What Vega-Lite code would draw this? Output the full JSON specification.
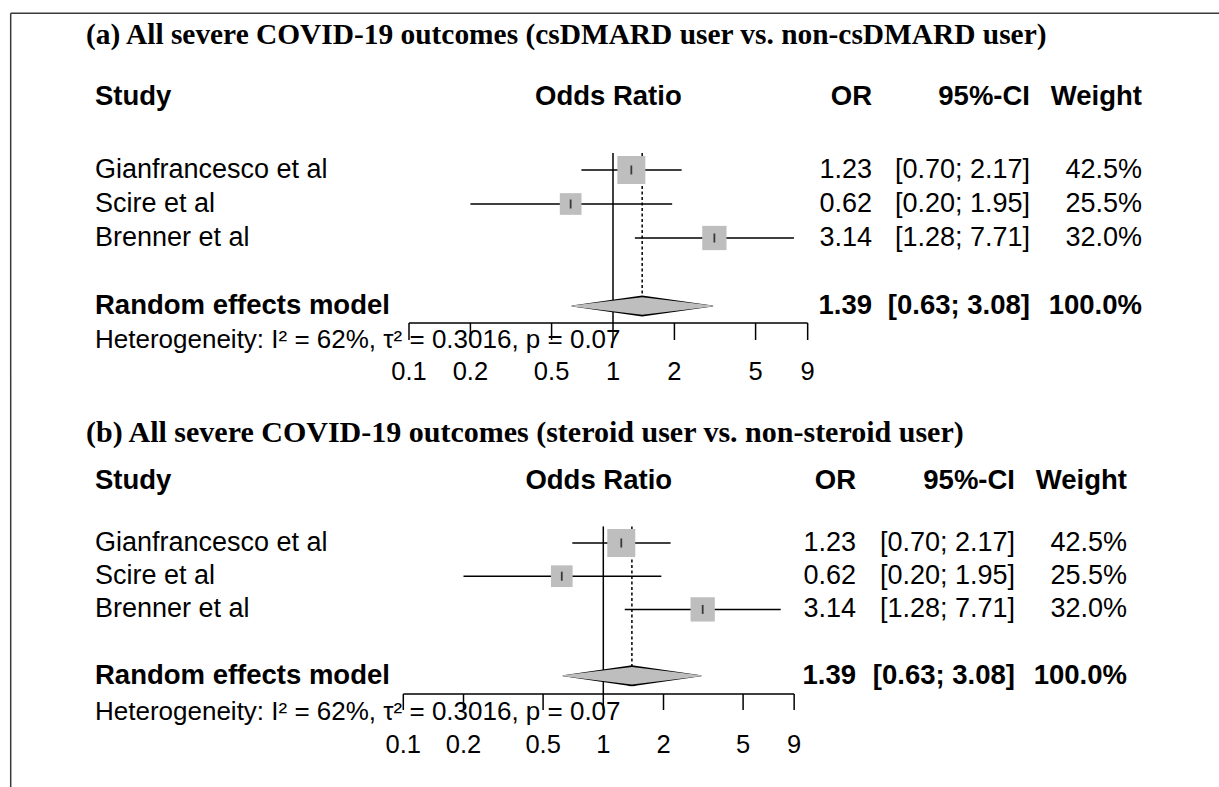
{
  "$schema": "https://vega.github.io/schema/vega-lite/v6.json",
  "padding": 0,
  "background": "white",
  "spacing": 0,
  "bounds": "flush",
  "config": {"view": {"stroke": null}, "text": {"font": "Liberation Sans", "color": "black", "baseline": "middle"}},
  "datasets": {
    "meta": [
      {"study": "Gianfrancesco et al", "or": 1.23, "lo": 0.70, "hi": 2.17, "ci": "[0.70; 2.17]", "w": 0.425, "row": 5, "kind": "study"},
      {"study": "Scire et al", "or": 0.62, "lo": 0.20, "hi": 1.95, "ci": "[0.20; 1.95]", "w": 0.255, "row": 6, "kind": "study"},
      {"study": "Brenner et al", "or": 3.14, "lo": 1.28, "hi": 7.71, "ci": "[1.28; 7.71]", "w": 0.32, "row": 7, "kind": "study"},
      {"study": "Random effects model", "or": 1.39, "lo": 0.63, "hi": 3.08, "ci": "[0.63; 3.08]", "w": 1.0, "row": 9, "kind": "pooled"}
    ],
    "ticks": [{"t": 0.1}, {"t": 0.2}, {"t": 0.5}, {"t": 1}, {"t": 2}, {"t": 5}, {"t": 9}],
    "one": [{}]
  },
  "vconcat": [
    {
      "width": 1219, "height": 377,
      "data": {"name": "meta"},
      "resolve": {"scale": {"size": "independent"}},
      "layer": [
        {"data": {"name": "one"}, "mark": {"type": "rule", "color": "#3a3a3a", "strokeWidth": 1.5},
         "encoding": {"x": {"datum": 0.0011155, "type": "quantitative", "scale": {"type": "log", "domain": [0.00098878, 934.5], "nice": false}, "axis": null},
                      "x2": {"datum": 934.5},
                      "y": {"datum": 0.39, "type": "quantitative", "scale": {"domain": [0, 11.0882], "reverse": true, "nice": false, "zero": false}, "axis": null}}},
        {"data": {"name": "one"}, "mark": {"type": "rule", "color": "#3a3a3a", "strokeWidth": 1.5},
         "encoding": {"x": {"datum": 0.0011155, "type": "quantitative"}, "y": {"datum": 0.39, "type": "quantitative"}, "y2": {"datum": 11.0882}}},
        {"data": {"name": "one"}, "mark": {"type": "rule", "color": "black", "strokeWidth": 1.5},
         "encoding": {"x": {"datum": 1, "type": "quantitative"}, "y": {"datum": 4.5, "type": "quantitative"}, "y2": {"datum": 9.5}}},
        {"transform": [{"filter": "datum.kind == 'pooled'"}], "mark": {"type": "rule", "color": "black", "strokeWidth": 1.5, "strokeDash": [3, 2.5]},
         "encoding": {"x": {"field": "or", "type": "quantitative"}, "y": {"datum": 4.5, "type": "quantitative"}, "y2": {"datum": 8.71}}},
        {"transform": [{"filter": "datum.kind == 'study'"}], "mark": {"type": "rule", "color": "black", "strokeWidth": 1.5},
         "encoding": {"x": {"field": "lo", "type": "quantitative"}, "x2": {"field": "hi"}, "y": {"field": "row", "type": "quantitative"}}},
        {"transform": [{"filter": "datum.kind == 'study'"}], "mark": {"type": "square", "color": "#bebebe", "opacity": 1, "filled": true},
         "encoding": {"x": {"field": "or", "type": "quantitative"}, "y": {"field": "row", "type": "quantitative"},
                      "size": {"field": "w", "type": "quantitative", "scale": {"type": "linear", "domain": [0, 0.5], "range": [0, 922]}, "legend": null}}},
        {"transform": [{"filter": "datum.kind == 'study'"}], "mark": {"type": "tick", "orient": "vertical", "size": 9, "thickness": 1.8, "color": "black"},
         "encoding": {"x": {"field": "or", "type": "quantitative"}, "y": {"field": "row", "type": "quantitative"}}},
        {"transform": [{"filter": "datum.kind == 'pooled'"}, {"fold": ["lo", "or", "hi"], "as": ["k", "v"]}], "mark": {"type": "trail", "color": "black"},
         "encoding": {"x": {"field": "v", "type": "quantitative"}, "y": {"field": "row", "type": "quantitative"},
                      "size": {"field": "k", "type": "nominal", "scale": {"type": "ordinal", "domain": ["lo", "or", "hi"], "range": [0, 21, 0]}, "legend": null}}},
        {"transform": [{"filter": "datum.kind == 'pooled'"}, {"fold": ["lo", "or", "hi"], "as": ["k", "v"]}], "mark": {"type": "trail", "color": "#bebebe"},
         "encoding": {"x": {"field": "v", "type": "quantitative"}, "y": {"field": "row", "type": "quantitative"},
                      "size": {"field": "k", "type": "nominal", "scale": {"type": "ordinal", "domain": ["lo", "or", "hi"], "range": [0, 17.5, 0]}, "legend": null}}},
        {"data": {"name": "one"}, "mark": {"type": "rule", "color": "black", "strokeWidth": 1.5},
         "encoding": {"x": {"datum": 0.1, "type": "quantitative"}, "x2": {"datum": 9}, "y": {"datum": 9.5, "type": "quantitative"}}},
        {"data": {"name": "ticks"}, "mark": {"type": "rule", "color": "black", "strokeWidth": 1.5},
         "encoding": {"x": {"field": "t", "type": "quantitative"}, "y": {"datum": 9.5, "type": "quantitative"}, "y2": {"datum": 10.0}}},
        {"data": {"name": "ticks"}, "mark": {"type": "text", "align": "center", "fontSize": 25.5},
         "encoding": {"x": {"field": "t", "type": "quantitative"}, "y": {"datum": 10.93, "type": "quantitative"}, "text": {"field": "t", "type": "quantitative", "format": "~g"}}},
        {"data": {"name": "one"}, "mark": {"type": "text", "align": "left", "font": "Liberation Serif", "fontWeight": "bold", "fontSize": 29.4},
         "encoding": {"x": {"datum": 0.0026102, "type": "quantitative"}, "y": {"datum": 1.03, "type": "quantitative"}, "text": {"value": "(a) All severe COVID-19 outcomes (csDMARD user vs. non-csDMARD user)"}}},
        {"data": {"name": "one"}, "mark": {"type": "text", "align": "left", "fontWeight": "bold", "fontSize": 27.5},
         "encoding": {"x": {"datum": 0.002889, "type": "quantitative"}, "y": {"datum": 2.85, "type": "quantitative"}, "text": {"value": "Study"}}},
        {"data": {"name": "one"}, "mark": {"type": "text", "align": "center", "fontWeight": "bold", "fontSize": 27.5},
         "encoding": {"x": {"datum": 0.9487, "type": "quantitative"}, "y": {"datum": 2.85, "type": "quantitative"}, "text": {"value": "Odds Ratio"}}},
        {"data": {"name": "one"}, "mark": {"type": "text", "align": "right", "fontWeight": "bold", "fontSize": 27.5},
         "encoding": {"x": {"datum": 18.61, "type": "quantitative"}, "y": {"datum": 2.85, "type": "quantitative"}, "text": {"value": "OR"}}},
        {"data": {"name": "one"}, "mark": {"type": "text", "align": "right", "fontWeight": "bold", "fontSize": 27.5},
         "encoding": {"x": {"datum": 110.69, "type": "quantitative"}, "y": {"datum": 2.85, "type": "quantitative"}, "text": {"value": "95%-CI"}}},
        {"data": {"name": "one"}, "mark": {"type": "text", "align": "right", "fontWeight": "bold", "fontSize": 27.5},
         "encoding": {"x": {"datum": 391.9, "type": "quantitative"}, "y": {"datum": 2.85, "type": "quantitative"}, "text": {"value": "Weight"}}},
        {"transform": [{"filter": "datum.kind == 'study'"}], "mark": {"type": "text", "align": "left", "fontSize": 27},
         "encoding": {"x": {"datum": 0.002889, "type": "quantitative"}, "y": {"field": "row", "type": "quantitative"}, "text": {"field": "study"}}},
        {"transform": [{"filter": "datum.kind == 'study'"}], "mark": {"type": "text", "align": "right", "fontSize": 27},
         "encoding": {"x": {"datum": 18.61, "type": "quantitative"}, "y": {"field": "row", "type": "quantitative"}, "text": {"field": "or", "type": "quantitative", "format": ".2f"}}},
        {"transform": [{"filter": "datum.kind == 'study'"}], "mark": {"type": "text", "align": "right", "fontSize": 27},
         "encoding": {"x": {"datum": 110.69, "type": "quantitative"}, "y": {"field": "row", "type": "quantitative"}, "text": {"field": "ci"}}},
        {"transform": [{"filter": "datum.kind == 'study'"}], "mark": {"type": "text", "align": "right", "fontSize": 27},
         "encoding": {"x": {"datum": 391.9, "type": "quantitative"}, "y": {"field": "row", "type": "quantitative"}, "text": {"field": "w", "type": "quantitative", "format": ".1%"}}},
        {"transform": [{"filter": "datum.kind == 'pooled'"}], "mark": {"type": "text", "align": "left", "fontSize": 27.5, "fontWeight": "bold"},
         "encoding": {"x": {"datum": 0.002889, "type": "quantitative"}, "y": {"field": "row", "type": "quantitative"}, "text": {"field": "study"}}},
        {"transform": [{"filter": "datum.kind == 'pooled'"}], "mark": {"type": "text", "align": "right", "fontSize": 27.5, "fontWeight": "bold"},
         "encoding": {"x": {"datum": 18.61, "type": "quantitative"}, "y": {"field": "row", "type": "quantitative"}, "text": {"field": "or", "type": "quantitative", "format": ".2f"}}},
        {"transform": [{"filter": "datum.kind == 'pooled'"}], "mark": {"type": "text", "align": "right", "fontSize": 27.5, "fontWeight": "bold"},
         "encoding": {"x": {"datum": 110.69, "type": "quantitative"}, "y": {"field": "row", "type": "quantitative"}, "text": {"field": "ci"}}},
        {"transform": [{"filter": "datum.kind == 'pooled'"}], "mark": {"type": "text", "align": "right", "fontSize": 27.5, "fontWeight": "bold"},
         "encoding": {"x": {"datum": 391.9, "type": "quantitative"}, "y": {"field": "row", "type": "quantitative"}, "text": {"field": "w", "type": "quantitative", "format": ".1%"}}},
        {"data": {"name": "one"}, "mark": {"type": "text", "align": "left", "fontSize": 26},
         "encoding": {"x": {"datum": 0.002889, "type": "quantitative"}, "y": {"datum": 10, "type": "quantitative"}, "text": {"value": "Heterogeneity: I² = 62%, τ² = 0.3016, p = 0.07"}}}
      ]
    },
    {
      "width": 1219, "height": 410,
      "data": {"name": "meta"},
      "resolve": {"scale": {"size": "independent"}},
      "layer": [
        {"data": {"name": "one"}, "mark": {"type": "rule", "color": "#3a3a3a", "strokeWidth": 1.5},
         "encoding": {"x": {"datum": 0.0010889, "type": "quantitative", "scale": {"type": "log", "domain": [0.00096271, 1198.1], "nice": false}, "axis": null},
                      "y": {"datum": 0, "type": "quantitative", "scale": {"domain": [0, 12.3494], "reverse": true, "nice": false, "zero": false}, "axis": null},
                      "y2": {"datum": 12.3494}}},
        {"data": {"name": "one"}, "mark": {"type": "rule", "color": "black", "strokeWidth": 1.5},
         "encoding": {"x": {"datum": 1, "type": "quantitative"}, "y": {"datum": 4.5, "type": "quantitative"}, "y2": {"datum": 9.55}}},
        {"transform": [{"filter": "datum.kind == 'pooled'"}], "mark": {"type": "rule", "color": "black", "strokeWidth": 1.5, "strokeDash": [3, 2.5]},
         "encoding": {"x": {"field": "or", "type": "quantitative"}, "y": {"datum": 4.5, "type": "quantitative"}, "y2": {"datum": 8.72}}},
        {"transform": [{"filter": "datum.kind == 'study'"}], "mark": {"type": "rule", "color": "black", "strokeWidth": 1.5},
         "encoding": {"x": {"field": "lo", "type": "quantitative"}, "x2": {"field": "hi"}, "y": {"field": "row", "type": "quantitative"}}},
        {"transform": [{"filter": "datum.kind == 'study'"}], "mark": {"type": "square", "color": "#bebebe", "opacity": 1, "filled": true},
         "encoding": {"x": {"field": "or", "type": "quantitative"}, "y": {"field": "row", "type": "quantitative"},
                      "size": {"field": "w", "type": "quantitative", "scale": {"type": "linear", "domain": [0, 0.5], "range": [0, 922]}, "legend": null}}},
        {"transform": [{"filter": "datum.kind == 'study'"}], "mark": {"type": "tick", "orient": "vertical", "size": 9, "thickness": 1.8, "color": "black"},
         "encoding": {"x": {"field": "or", "type": "quantitative"}, "y": {"field": "row", "type": "quantitative"}}},
        {"transform": [{"filter": "datum.kind == 'pooled'"}, {"fold": ["lo", "or", "hi"], "as": ["k", "v"]}], "mark": {"type": "trail", "color": "black"},
         "encoding": {"x": {"field": "v", "type": "quantitative"}, "y": {"field": "row", "type": "quantitative"},
                      "size": {"field": "k", "type": "nominal", "scale": {"type": "ordinal", "domain": ["lo", "or", "hi"], "range": [0, 21, 0]}, "legend": null}}},
        {"transform": [{"filter": "datum.kind == 'pooled'"}, {"fold": ["lo", "or", "hi"], "as": ["k", "v"]}], "mark": {"type": "trail", "color": "#bebebe"},
         "encoding": {"x": {"field": "v", "type": "quantitative"}, "y": {"field": "row", "type": "quantitative"},
                      "size": {"field": "k", "type": "nominal", "scale": {"type": "ordinal", "domain": ["lo", "or", "hi"], "range": [0, 17.5, 0]}, "legend": null}}},
        {"data": {"name": "one"}, "mark": {"type": "rule", "color": "black", "strokeWidth": 1.5},
         "encoding": {"x": {"datum": 0.1, "type": "quantitative"}, "x2": {"datum": 9}, "y": {"datum": 9.55, "type": "quantitative"}}},
        {"data": {"name": "ticks"}, "mark": {"type": "rule", "color": "black", "strokeWidth": 1.5},
         "encoding": {"x": {"field": "t", "type": "quantitative"}, "y": {"datum": 9.55, "type": "quantitative"}, "y2": {"datum": 10.03}}},
        {"data": {"name": "ticks"}, "mark": {"type": "text", "align": "center", "fontSize": 25.5},
         "encoding": {"x": {"field": "t", "type": "quantitative"}, "y": {"datum": 11.08, "type": "quantitative"}, "text": {"field": "t", "type": "quantitative", "format": "~g"}}},
        {"data": {"name": "one"}, "mark": {"type": "text", "align": "left", "font": "Liberation Serif", "fontWeight": "bold", "fontSize": 30},
         "encoding": {"x": {"datum": 0.0025912, "type": "quantitative"}, "y": {"datum": 1.69, "type": "quantitative"}, "text": {"value": "(b) All severe COVID-19 outcomes (steroid user vs. non-steroid user)"}}},
        {"data": {"name": "one"}, "mark": {"type": "text", "align": "left", "fontWeight": "bold", "fontSize": 27.5},
         "encoding": {"x": {"datum": 0.0028738, "type": "quantitative"}, "y": {"datum": 3.13, "type": "quantitative"}, "text": {"value": "Study"}}},
        {"data": {"name": "one"}, "mark": {"type": "text", "align": "center", "fontWeight": "bold", "fontSize": 27.5},
         "encoding": {"x": {"datum": 0.9487, "type": "quantitative"}, "y": {"datum": 3.13, "type": "quantitative"}, "text": {"value": "Odds Ratio"}}},
        {"data": {"name": "one"}, "mark": {"type": "text", "align": "right", "fontWeight": "bold", "fontSize": 27.5},
         "encoding": {"x": {"datum": 18.344, "type": "quantitative"}, "y": {"datum": 3.13, "type": "quantitative"}, "text": {"value": "OR"}}},
        {"data": {"name": "one"}, "mark": {"type": "text", "align": "right", "fontWeight": "bold", "fontSize": 27.5},
         "encoding": {"x": {"datum": 114.42, "type": "quantitative"}, "y": {"datum": 3.13, "type": "quantitative"}, "text": {"value": "95%-CI"}}},
        {"data": {"name": "one"}, "mark": {"type": "text", "align": "right", "fontWeight": "bold", "fontSize": 27.5},
         "encoding": {"x": {"datum": 415.4, "type": "quantitative"}, "y": {"datum": 3.13, "type": "quantitative"}, "text": {"value": "Weight"}}},
        {"transform": [{"filter": "datum.kind == 'study'"}], "mark": {"type": "text", "align": "left", "fontSize": 27},
         "encoding": {"x": {"datum": 0.0028738, "type": "quantitative"}, "y": {"field": "row", "type": "quantitative"}, "text": {"field": "study"}}},
        {"transform": [{"filter": "datum.kind == 'study'"}], "mark": {"type": "text", "align": "right", "fontSize": 27},
         "encoding": {"x": {"datum": 18.344, "type": "quantitative"}, "y": {"field": "row", "type": "quantitative"}, "text": {"field": "or", "type": "quantitative", "format": ".2f"}}},
        {"transform": [{"filter": "datum.kind == 'study'"}], "mark": {"type": "text", "align": "right", "fontSize": 27},
         "encoding": {"x": {"datum": 114.42, "type": "quantitative"}, "y": {"field": "row", "type": "quantitative"}, "text": {"field": "ci"}}},
        {"transform": [{"filter": "datum.kind == 'study'"}], "mark": {"type": "text", "align": "right", "fontSize": 27},
         "encoding": {"x": {"datum": 415.4, "type": "quantitative"}, "y": {"field": "row", "type": "quantitative"}, "text": {"field": "w", "type": "quantitative", "format": ".1%"}}},
        {"transform": [{"filter": "datum.kind == 'pooled'"}], "mark": {"type": "text", "align": "left", "fontSize": 27.5, "fontWeight": "bold"},
         "encoding": {"x": {"datum": 0.0028738, "type": "quantitative"}, "y": {"field": "row", "type": "quantitative"}, "text": {"field": "study"}}},
        {"transform": [{"filter": "datum.kind == 'pooled'"}], "mark": {"type": "text", "align": "right", "fontSize": 27.5, "fontWeight": "bold"},
         "encoding": {"x": {"datum": 18.344, "type": "quantitative"}, "y": {"field": "row", "type": "quantitative"}, "text": {"field": "or", "type": "quantitative", "format": ".2f"}}},
        {"transform": [{"filter": "datum.kind == 'pooled'"}], "mark": {"type": "text", "align": "right", "fontSize": 27.5, "fontWeight": "bold"},
         "encoding": {"x": {"datum": 114.42, "type": "quantitative"}, "y": {"field": "row", "type": "quantitative"}, "text": {"field": "ci"}}},
        {"transform": [{"filter": "datum.kind == 'pooled'"}], "mark": {"type": "text", "align": "right", "fontSize": 27.5, "fontWeight": "bold"},
         "encoding": {"x": {"datum": 415.4, "type": "quantitative"}, "y": {"field": "row", "type": "quantitative"}, "text": {"field": "w", "type": "quantitative", "format": ".1%"}}},
        {"data": {"name": "one"}, "mark": {"type": "text", "align": "left", "fontSize": 26},
         "encoding": {"x": {"datum": 0.0028738, "type": "quantitative"}, "y": {"datum": 10.09, "type": "quantitative"}, "text": {"value": "Heterogeneity: I² = 62%, τ² = 0.3016, p = 0.07"}}}
      ]
    }
  ]
}
